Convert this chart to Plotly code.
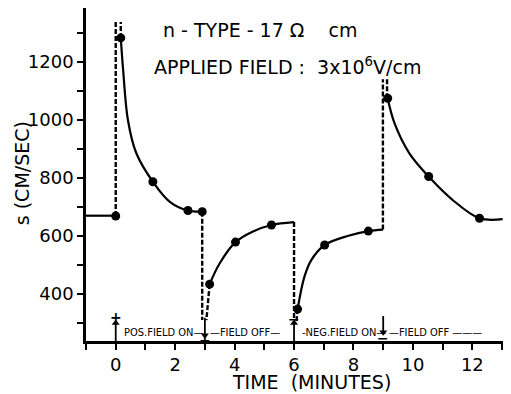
import plotly.graph_objects as go

# ---- data ----
pt_t = [0, 0.17, 1.25, 2.43, 2.91, 3.16, 4.03, 5.24, 6.12, 7.03, 8.5, 9.15, 10.53, 12.24]
pt_s = [669, 1283, 787, 688, 684, 434, 579, 638, 348, 569, 617, 1075, 805, 661]

base_t = [-1, 0]
base_s = [670, 670]

c1_t = [0.17, 0.25, 0.41, 0.69, 1.25, 1.82, 2.43, 2.91]
c1_s = [1283, 1172, 1000, 886, 787, 718, 688, 684]
c2_t = [3.16, 3.5, 4.03, 4.6, 5.24, 6.0]
c2_s = [434, 506, 579, 615, 638, 648]
c3_t = [6.12, 6.35, 6.58, 7.03, 7.8, 8.5, 8.99]
c3_s = [348, 460, 517, 569, 600, 617, 622]
c4_t = [9.15, 9.38, 9.88, 10.53, 11.34, 12.24, 13.02]
c4_s = [1075, 989, 885, 805, 724, 661, 658]

# switching transients (dashed)
sw_t = [0, 0, None, 0.17, 0.17, None, 2.91, 2.91, None, 3.16, 3.05, None,
        6.0, 6.0, None, 6.12, 6.08, None, 8.99, 8.99, None, 9.13, 9.13]
sw_s = [669, 1338, None, 1283, 1338, None, 684, 310, None, 434, 310, None,
        648, 310, None, 348, 305, None, 622, 1140, None, 1075, 1140]

x_tickvals = list(range(-1, 14))
x_ticktext = ["" if v % 2 else str(v) for v in x_tickvals]
y_tickvals = list(range(300, 1400, 100))
y_ticktext = [str(v) if v % 200 == 0 else "" for v in y_tickvals]

phase_labels = ["POS.FIELD ON—", "—FIELD OFF—", "-NEG.FIELD ON—", "—FIELD OFF ———"]
phase_starts = [0.2, 3.1, 6.2, 9.14]

# field-switch arrows: time, tail, head
arr_t = [0, 3.0, 6.0, 9.0]
arr_tail = [238, 318, 238, 324]
arr_head = [300, 258, 300, 268]
signs = ["+", "+", "−", "−"]
sign_s = [322, 243, 314, 249]

FONT = "DejaVu Sans, Liberation Sans, sans-serif"
NARROW = "DejaVu Sans Condensed, Liberation Sans Narrow, Liberation Sans, sans-serif"

fig = go.Figure()
fig.add_trace(go.Scatter(x=base_t, y=base_s, mode="lines", line=dict(color="black", width=2.2)))
for ct, cs in [(c1_t, c1_s), (c2_t, c2_s), (c3_t, c3_s), (c4_t, c4_s)]:
    fig.add_trace(go.Scatter(x=ct, y=cs, mode="lines",
                             line=dict(color="black", width=2.2, shape="spline", smoothing=1.0)))
fig.add_trace(go.Scatter(x=sw_t, y=sw_s, mode="lines", line=dict(color="black", width=2.4, dash="5px,2px")))
fig.add_trace(go.Scatter(x=pt_t, y=pt_s, mode="markers", marker=dict(color="black", size=9)))

# arrows as line segments + triangle heads
for t, a, b in zip(arr_t, arr_tail, arr_head):
    fig.add_trace(go.Scatter(x=[t, t], y=[a, b], mode="lines", line=dict(color="black", width=1.8)))
    fig.add_trace(go.Scatter(x=[t], y=[b], mode="markers",
                             marker=dict(symbol="triangle-up" if b > a else "triangle-down",
                                         color="black", size=7)))

ann = []
for txt, x0 in zip(phase_labels, phase_starts):
    ann.append(dict(x=x0, y=266, xref="x", yref="y", text=txt, showarrow=False,
                    xanchor="left", yanchor="middle", font=dict(family=NARROW, size=11, color="black")))
for t, y0, s in zip(arr_t, sign_s, signs):
    ann.append(dict(x=t, y=y0, xref="x", yref="y", text="<b>%s</b>" % s, showarrow=False,
                    font=dict(family=FONT, size=14, color="black")))
ann.append(dict(x=4.84, y=1310, xref="x", yref="y", text="n - TYPE - 17 Ω    cm", showarrow=False,
                font=dict(family=FONT, size=19, color="black")))
ann.append(dict(x=5.78, y=1186, xref="x", yref="y", text="APPLIED FIELD :  3x10<sup>6</sup>V/cm", showarrow=False,
                font=dict(family=FONT, size=19, color="black")))
ann.append(dict(x=0.53, y=-0.123, xref="paper", yref="paper", text="TIME  (MINUTES)", showarrow=False,
                yanchor="middle", font=dict(family=FONT, size=19, color="black")))
ann.append(dict(x=-0.152, y=0.505, xref="paper", yref="paper", text="s (CM/SEC)", showarrow=False,
                textangle=-90, xanchor="center", yanchor="middle", font=dict(family=FONT, size=19, color="black")))

# page has an 8px body margin: figure placed at (8, 8)
fig.update_layout(
    width=503, height=386,
    margin=dict(l=78, r=0, t=0, b=53),
    paper_bgcolor="white", plot_bgcolor="white",
    showlegend=False,
    annotations=ann,
    xaxis=dict(range=[-1, 13.3], tickvals=x_tickvals, ticktext=x_ticktext,
               showgrid=False, zeroline=False, showline=True, linecolor="black", linewidth=2.5,
               ticks="outside", ticklen=6, tickwidth=2, tickcolor="black",
               tickfont=dict(family=FONT, size=18, color="black")),
    yaxis=dict(range=[238, 1386], tickvals=y_tickvals, ticktext=y_ticktext,
               showgrid=False, zeroline=False, showline=True, linecolor="black", linewidth=2.5,
               ticks="outside", ticklen=6, tickwidth=2, tickcolor="black",
               tickfont=dict(family=FONT, size=18, color="black")),
)
fig.write_html("out.html")
